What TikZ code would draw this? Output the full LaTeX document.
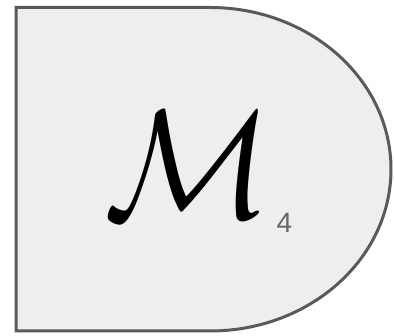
\documentclass[tikz,border=0pt]{standalone}
\usepackage{fontspec}
\newfontfamily\indexfont{Liberation Sans}
\definecolor{gatefill}{HTML}{EEEEEE}
\definecolor{gateline}{HTML}{5A5A5A}
\definecolor{indexgray}{HTML}{666666}
\begin{document}
\begin{tikzpicture}[
  x=1pt, y=-1pt,
  gate/.style={draw=gateline,fill=gatefill,line width=3pt,line join=miter},
  symbol/.style={inner sep=0pt,xscale=13.9,yscale=15.4,anchor=base},
  index/.style={inner sep=0pt,anchor=base,text=indexgray,font=\indexfont\fontsize{28}{28}\selectfont}
]
\useasboundingbox (0,0) rectangle (394,336);
% measurement box
\draw[gate] (210,7.5) -- (16,7.5) -- (16,331) -- (210,331)
  arc[start angle=90,end angle=-90,x radius=181,y radius=161.75] -- cycle;
\node[symbol] (M) at (188,218) {$\mathcal{M}$};
\node[index] (idx) at (284.5,233) {4};
\end{tikzpicture}
\end{document}
